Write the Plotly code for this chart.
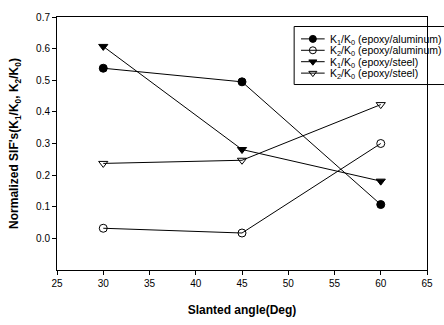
import plotly.graph_objects as go

angles = [30, 45, 60]
k1_alum = [0.538, 0.495, 0.107]
k2_alum = [0.032, 0.017, 0.300]
k1_steel = [0.607, 0.281, 0.181]
k2_steel = [0.237, 0.247, 0.423]

names = [
    "K<sub>1</sub>/K<sub>0</sub> (epoxy/aluminum)",
    "K<sub>2</sub>/K<sub>0</sub> (epoxy/aluminum)",
    "K<sub>1</sub>/K<sub>0</sub> (epoxy/steel)",
    "K<sub>2</sub>/K<sub>0</sub> (epoxy/steel)",
]
series = [k1_alum, k2_alum, k1_steel, k2_steel]
symbols = ["circle", "circle-open", "triangle-down", "triangle-down-open"]

# plot area in pixels (for the overlay legend axis)
L, R, T, B = 57, 433, 15, 281
leg_rows = [38, 50, 62, 74]

fig = go.Figure()
for nm, ys, sym in zip(names, series, symbols):
    fig.add_trace(go.Scatter(
        x=angles, y=ys, name=nm, mode="lines+markers", showlegend=False,
        line=dict(color="black", width=1),
        marker=dict(symbol=sym, size=8, color="black",
                    line=dict(color="black", width=1)),
    ))

# custom compact legend drawn on an overlay axis in pixel units
for nm, sym, ry in zip(names, symbols, leg_rows):
    fig.add_trace(go.Scatter(
        x=[305, 329], y=[ry, ry], xaxis="x2", yaxis="y2", mode="lines",
        line=dict(color="black", width=1), showlegend=False, hoverinfo="skip"))
    fig.add_trace(go.Scatter(
        x=[317], y=[ry], xaxis="x2", yaxis="y2", mode="markers",
        marker=dict(symbol=sym, size=7, color="black", line=dict(color="black", width=1)),
        showlegend=False, hoverinfo="skip"))
    fig.add_annotation(x=332, y=ry + 1, xref="x2", yref="y2", text=nm, showarrow=False,
                       xanchor="left", yanchor="middle", font=dict(size=10.5))

fig.add_shape(type="rect", xref="paper", yref="paper",
              x0=(298 - L) / (R - L), x1=1.3,
              y0=(B - 86) / (B - T), y1=(B - 25) / (B - T),
              line=dict(color="black", width=1), fillcolor="white", layer="below")

fig.update_layout(
    width=444, height=325,
    margin=dict(l=L, r=444 - R, t=T, b=325 - B),
    paper_bgcolor="white", plot_bgcolor="white",
    font=dict(family="Arial, Liberation Sans", size=10, color="black"),
    showlegend=False,
    xaxis=dict(range=[25, 65], tickvals=[25, 30, 35, 40, 45, 50, 55, 60, 65],
               showline=True, linecolor="black", linewidth=1, mirror=True,
               ticks="outside", ticklen=4, tickcolor="black", showgrid=False,
               zeroline=False,
               title=dict(text="<b>Slanted angle(Deg)</b>", font=dict(size=12), standoff=17)),
    yaxis=dict(range=[-0.1, 0.7], tickvals=[0, 0.1, 0.2, 0.3, 0.4, 0.5, 0.6, 0.7],
               tickformat=".1f",
               showline=True, linecolor="black", linewidth=1, mirror=True,
               ticks="outside", ticklen=4, tickcolor="black", showgrid=False,
               zeroline=False,
               title=dict(text="<b>Normalized SIF's(K<sub>1</sub>/K<sub>0</sub>, K<sub>2</sub>/K<sub>0</sub>)</b>",
                          font=dict(size=12), standoff=14)),
    xaxis2=dict(overlaying="x", range=[L, R], visible=False, fixedrange=True),
    yaxis2=dict(overlaying="y", range=[B, T], visible=False, fixedrange=True),
)

fig.write_html("out.html")
